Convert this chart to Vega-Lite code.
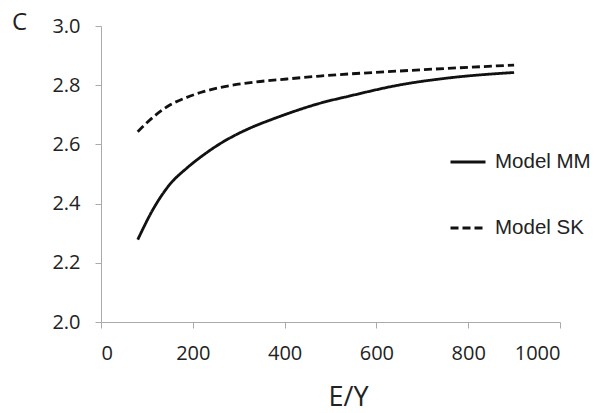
{
  "$schema": "https://vega.github.io/schema/vega-lite/v6.json",
  "width": 459,
  "height": 296,
  "autosize": "none",
  "padding": {"left": 101, "top": 26, "right": 39, "bottom": 91},
  "background": "white",
  "config": {"view": {"stroke": null}},
  "data": {
    "values": [
      {"ey": 80, "c": 2.278, "model": "Model MM"},
      {"ey": 115, "c": 2.385, "model": "Model MM"},
      {"ey": 150, "c": 2.465, "model": "Model MM"},
      {"ey": 187, "c": 2.52, "model": "Model MM"},
      {"ey": 223, "c": 2.564, "model": "Model MM"},
      {"ey": 259, "c": 2.602, "model": "Model MM"},
      {"ey": 296, "c": 2.634, "model": "Model MM"},
      {"ey": 332, "c": 2.66, "model": "Model MM"},
      {"ey": 368, "c": 2.682, "model": "Model MM"},
      {"ey": 405, "c": 2.703, "model": "Model MM"},
      {"ey": 441, "c": 2.722, "model": "Model MM"},
      {"ey": 477, "c": 2.739, "model": "Model MM"},
      {"ey": 543, "c": 2.764, "model": "Model MM"},
      {"ey": 651, "c": 2.801, "model": "Model MM"},
      {"ey": 760, "c": 2.825, "model": "Model MM"},
      {"ey": 900, "c": 2.843, "model": "Model MM"},
      {"ey": 80, "c": 2.643, "model": "Model SK"},
      {"ey": 115, "c": 2.694, "model": "Model SK"},
      {"ey": 150, "c": 2.733, "model": "Model SK"},
      {"ey": 187, "c": 2.759, "model": "Model SK"},
      {"ey": 223, "c": 2.778, "model": "Model SK"},
      {"ey": 259, "c": 2.792, "model": "Model SK"},
      {"ey": 332, "c": 2.81, "model": "Model SK"},
      {"ey": 405, "c": 2.821, "model": "Model SK"},
      {"ey": 477, "c": 2.831, "model": "Model SK"},
      {"ey": 651, "c": 2.848, "model": "Model SK"},
      {"ey": 900, "c": 2.868, "model": "Model SK"}
    ]
  },
  "mark": {"type": "line", "color": "#111", "strokeWidth": 2.8, "interpolate": "monotone"},
  "encoding": {
    "x": {
      "field": "ey", "type": "quantitative",
      "scale": {"domain": [0, 1000], "nice": false},
      "axis": {
        "values": [0, 200, 400, 600, 800, 1000],
        "format": "d",
        "title": "E/Y",
        "grid": false,
        "domainColor": "#aaa", "tickColor": "#aaa", "tickSize": 6,
        "labelFont": "Open Sans", "labelFontSize": 20, "labelColor": "#222", "labelPadding": 15,
        "titleFont": "Open Sans", "titleFontSize": 27, "titleFontWeight": "normal", "titleColor": "#222",
        "titleAlign": "center", "titleBaseline": "alphabetic", "titleX": 247, "titleY": 83
      }
    },
    "y": {
      "field": "c", "type": "quantitative",
      "scale": {"domain": [2.0, 3.0], "nice": false, "zero": false},
      "axis": {
        "values": [2.0, 2.2, 2.4, 2.6, 2.8, 3.0],
        "format": ".1f",
        "title": "C",
        "grid": false,
        "domainColor": "#aaa", "tickColor": "#aaa", "tickSize": 6,
        "labelFont": "Open Sans", "labelFontSize": 20, "labelColor": "#222", "labelPadding": 15,
        "titleFont": "Open Sans", "titleFontSize": 24, "titleFontWeight": "normal", "titleColor": "#222",
        "titleAngle": 0, "titleAlign": "center", "titleBaseline": "alphabetic", "titleX": -82, "titleY": 3
      }
    },
    "strokeDash": {
      "field": "model", "type": "nominal",
      "scale": {"domain": ["Model MM", "Model SK"], "range": [[1, 0], [8, 4]]},
      "legend": {
        "title": null,
        "orient": "none",
        "legendX": 348,
        "legendY": 117,
        "padding": 0,
        "symbolType": "stroke",
        "symbolSize": 1225,
        "symbolStrokeWidth": 3,
        "symbolStrokeColor": "#111",
        "labelFont": "Liberation Sans",
        "labelFontSize": 20.5,
        "labelColor": "#222",
        "labelOffset": 8,
        "rowPadding": 36
      }
    }
  }
}
